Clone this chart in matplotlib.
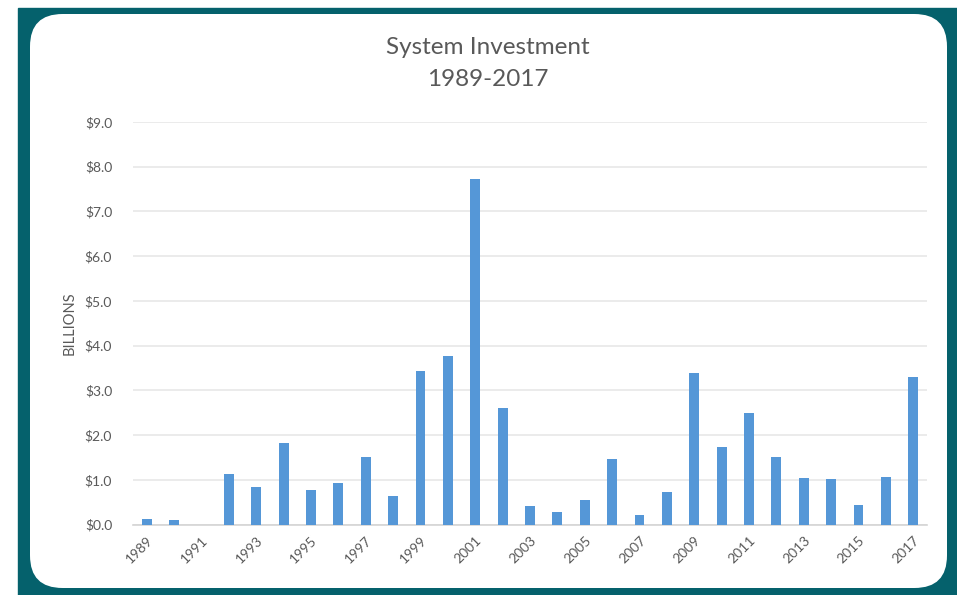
import matplotlib
matplotlib.use("Agg")
import matplotlib.pyplot as plt
from matplotlib.patches import Rectangle, FancyBboxPatch

# values in billions of dollars
years = list(range(1989, 2018))
investment = [0.13, 0.09, 0.0, 1.12, 0.84, 1.82, 0.78, 0.93, 1.50, 0.63,
              3.44, 3.77, 7.72, 2.61, 0.41, 0.28, 0.55, 1.46, 0.22, 0.73,
              3.38, 1.73, 2.49, 1.50, 1.03, 1.02, 0.43, 1.06, 3.29]
tick_years = years[::2]
y_ticks = [0, 1, 2, 3, 4, 5, 6, 7, 8, 9]

TEAL = "#05616c"
BLUE = "#5597d7"
GREY = "#595959"

plt.rcParams['font.family'] = ['Lato', 'DejaVu Sans']

fig = plt.figure(figsize=(9.57, 5.95), dpi=100)
fig.patch.set_facecolor("white")

# teal frame + white rounded card behind the chart
W, H = 957, 595
fig.patches.append(Rectangle((18 / W, 0), (957 - 18) / W, (595 - 8) / H,
                             transform=fig.transFigure, color=TEAL, zorder=0))
fig.patches.append(FancyBboxPatch((30 / W, (595 - 588) / H), (947 - 30) / W, (588 - 14) / H,
                                  boxstyle="round,pad=0,rounding_size=0.034",
                                  mutation_aspect=W / H,
                                  transform=fig.transFigure, facecolor="white",
                                  edgecolor="none", zorder=1))

ax = fig.add_axes([133 / W, (595 - 524.5) / H, (927 - 133) / W, (524.5 - 122) / H])
ax.set_facecolor("none")
ax.set_zorder(2)

ax.bar(years, investment, width=0.36, color=BLUE, zorder=3)

ax.set_xlim(1988.5, 2017.5)
ax.set_ylim(0, 9)
ax.set_yticks(y_ticks)
ax.set_yticklabels([f"${v:.1f}" for v in y_ticks])
ax.set_xticks(tick_years)
ax.set_xticklabels([str(y) for y in tick_years], rotation=45, ha="right",
                   rotation_mode="anchor")
ax.tick_params(axis="both", length=0, labelsize=10, colors=GREY)
ax.tick_params(axis="y", pad=15)
ax.tick_params(axis="x", pad=7)

ax.grid(axis="y", color="#e6e6e6", linewidth=1.1, zorder=0)
for s in ["top", "right", "left"]:
    ax.spines[s].set_visible(False)
ax.spines["bottom"].set_color("#d4d4d4")
ax.spines["bottom"].set_linewidth(1.2)

ax.set_ylabel("BILLIONS", color=GREY, fontsize=10.5, labelpad=6)

fig.text(488 / W, 1 - 47 / H, "System Investment", ha="center", va="center",
         fontsize=17.5, color=GREY)
fig.text(488 / W, 1 - 80 / H, "1989-2017", ha="center", va="center",
         fontsize=17.5, color=GREY)

fig.savefig("out.png", dpi=100)
